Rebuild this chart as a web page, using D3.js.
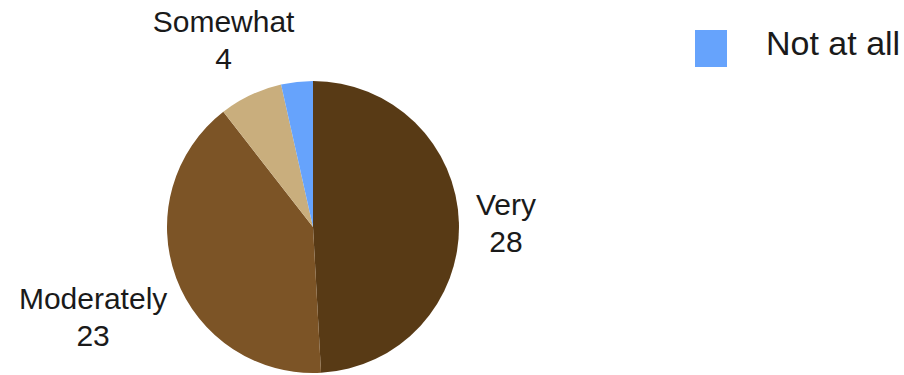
<!DOCTYPE html>
<html>
<head>
<meta charset="utf-8">
<script src="https://cdn.jsdelivr.net/npm/d3@7"></script>
<style>
  html, body { margin: 0; padding: 0; background: #fff; }
  svg { display: block; font-family: "Liberation Sans", Arial, sans-serif; }
</style>
</head>
<body>
<svg id="chart" width="904" height="375"></svg>
<script>
// Survey answers and counts
const categories = ["Very", "Moderately", "Somewhat", "Not at all"];
const counts = [28, 23, 4, 2];
const colors = ["#583a15", "#7c5426", "#c9ae7d", "#66a3fc"];
// Only these answers get a label beside the slice
const labelled = ["Very", "Moderately", "Somewhat"];
// Legend entries shown at the top right
const legendItems = ["Not at all"];

const svg = d3.select("#chart");
const cx = 313, cy = 227, radius = 146;

const data = categories.map((c, i) => ({ name: c, value: counts[i] }));
const color = d3.scaleOrdinal().domain(categories).range(colors);

const pie = d3.pie().value(d => d.value).sort(null);
const arc = d3.arc().innerRadius(0).outerRadius(radius);
const arcs = pie(data);

const g = svg.append("g").attr("transform", `translate(${cx},${cy})`);

g.selectAll("path.slice")
  .data(arcs)
  .join("path")
  .attr("class", "slice")
  .attr("d", arc)
  .attr("fill", d => color(d.data.name));

// Two-line labels (name, count) placed just outside each slice
const labelR = 163;
const lineGap = 37;
g.selectAll("g.label")
  .data(arcs.filter(d => labelled.includes(d.data.name)))
  .join("g")
  .attr("class", "label")
  .each(function (d) {
    const grp = d3.select(this);
    const t = grp.append("text")
      .attr("text-anchor", "middle")
      .attr("font-size", 30)
      .attr("fill", "#1a1a1a");
    t.append("tspan").attr("x", 0).attr("y", -8).text(d.data.name);
    t.append("tspan").attr("x", 0).attr("y", -8 + lineGap).text(d.data.value);
    const w = t.node().getBBox().width;
    const halfH = 31.5;
    const a = (d.startAngle + d.endAngle) / 2;
    const s = Math.sin(a), c = -Math.cos(a);
    const px = s * labelR, py = c * labelR;
    // push the block outward so its inner edge sits on the label ring
    const ox = Math.sign(s) * Math.pow(Math.abs(s), 1.5) * w / 2;
    const oy = Math.abs(c) > 0.1 ? Math.sign(c) * halfH * (1 + 0.3 * c * c) : 0;
    grp.attr("transform", `translate(${px + ox},${py + oy})`);
  });

// Legend
const legend = svg.append("g").attr("transform", "translate(695,30)");
const li = legend.selectAll("g").data(legendItems).join("g")
  .attr("transform", (d, i) => `translate(0,${i * 44})`);
li.append("rect").attr("width", 32).attr("height", 37).attr("fill", d => color(d));
li.append("text")
  .attr("x", 71).attr("y", 25)
  .attr("font-size", 34)
  .attr("fill", "#1a1a1a")
  .text(d => d);
</script>
</body>
</html>
